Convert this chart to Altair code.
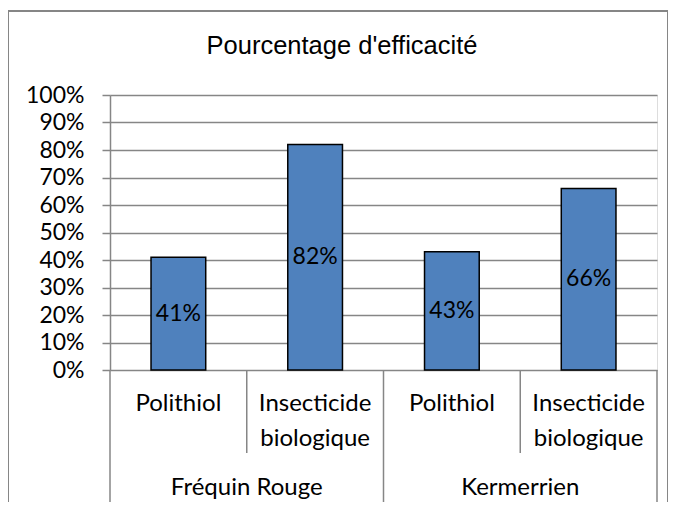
import altair as alt
import pandas as pd

chart_title = "Pourcentage d'efficacité"
sites = ["Fréquin Rouge", "Fréquin Rouge", "Kermerrien", "Kermerrien"]
treatments = ["Polithiol", "Insecticide\nbiologique", "Polithiol", "Insecticide\nbiologique"]
values = [0.41, 0.82, 0.43, 0.66]
y_ticks = [0.0, 0.1, 0.2, 0.3, 0.4, 0.5, 0.6, 0.7, 0.8, 0.9, 1.0]

n = len(values)
bars_df = pd.DataFrame({"i": list(range(n)), "site": sites,
                        "treatment": treatments, "value": values})

sep_rows = []
for b in range(n + 1):
    major = b == 0 or b == n or sites[b] != sites[b - 1]
    sep_rows.append({"pos": b, "major": major})
sep_df = pd.DataFrame(sep_rows)

grp_rows = []
for s in dict.fromkeys(sites):
    idx = [k for k, v in enumerate(sites) if v == s]
    grp_rows.append({"site": s, "center": (min(idx) + max(idx) + 1) / 2})
grp_df = pd.DataFrame(grp_rows)

W, H = 547, 275
GRAY = "#868686"
LABEL_FONT = "Lato"

xs = alt.Scale(domain=[0, n], nice=False, zero=False)
ys = alt.Scale(domain=[0, 1], nice=False)
y_axis = alt.Axis(
    values=y_ticks, format=".0%", title=None, grid=True, labelOverlap=False,
    tickCount=11,
    gridColor=GRAY, gridWidth=1.5, domainColor=GRAY, domainWidth=1.5,
    tickColor=GRAY, tickWidth=1.5, tickSize=8, labelPadding=18,
    labelFont=LABEL_FONT, labelFontSize=23, labelColor="black")

base = alt.Chart(bars_df).transform_calculate(
    x0="datum.i + 0.3", x1="datum.i + 0.7", xc="datum.i + 0.5",
    mid="datum.value / 2", zero="0"
)

bars = base.mark_bar(color="#4F81BD", stroke="black", strokeWidth=1.5).encode(
    x=alt.X("x0:Q", scale=xs, axis=None),
    x2="x1:Q",
    y=alt.Y("value:Q", scale=ys, axis=y_axis),
    y2="zero:Q",
)

bar_labels = base.mark_text(font=LABEL_FONT, fontSize=23, color="black",
                            baseline="middle", align="center").encode(
    x=alt.X("xc:Q", scale=xs, axis=None),
    y=alt.Y("mid:Q", scale=ys, axis=y_axis),
    text=alt.Text("value:Q", format=".0%"),
)

treat_labels = base.mark_text(font=LABEL_FONT, fontSize=24, color="black",
                              baseline="top", align="center", lineBreak="\n",
                              lineHeight=35).encode(
    x=alt.X("xc:Q", scale=xs, axis=None),
    y=alt.value(297),
    text="treatment:N",
)

site_labels = alt.Chart(grp_df).mark_text(font=LABEL_FONT, fontSize=24, color="black",
                                          baseline="middle", align="center").encode(
    x=alt.X("center:Q", scale=xs, axis=None),
    y=alt.value(393),
    text="site:N",
)

title_mark = alt.Chart(pd.DataFrame({"t": [chart_title]})).mark_text(
    font="Liberation Sans", fontSize=25.5, color="black",
    baseline="alphabetic", align="center").encode(
    x=alt.value(232), y=alt.value(-41), text="t:N")

minor_seps = alt.Chart(sep_df).transform_filter("!datum.major").mark_rule(
    color=GRAY, strokeWidth=1.5).encode(
    x=alt.X("pos:Q", scale=xs, axis=None), y=alt.value(H), y2=alt.value(358))

major_seps = alt.Chart(sep_df).transform_filter("datum.major").mark_rule(
    color=GRAY, strokeWidth=1.5).encode(
    x=alt.X("pos:Q", scale=xs, axis=None), y=alt.value(H), y2=alt.value(407))

frame_df = pd.DataFrame({"k": [0]})
frame_left = alt.Chart(frame_df).mark_rule(color=GRAY, strokeWidth=2).encode(
    x=alt.value(-102), y=alt.value(-84), y2=alt.value(407))
frame_right = alt.Chart(frame_df).mark_rule(color=GRAY, strokeWidth=2).encode(
    x=alt.value(558), y=alt.value(-84), y2=alt.value(407))
frame_top = alt.Chart(frame_df).mark_rule(color=GRAY, strokeWidth=2).encode(
    x=alt.value(-102), x2=alt.value(558), y=alt.value(-84))

chart = alt.layer(
    bars, bar_labels, minor_seps, major_seps, treat_labels, site_labels,
    title_mark, frame_left, frame_right, frame_top
).properties(
    width=W, height=H,
    autosize=alt.AutoSizeParams(type="none"),
    padding={"left": 102, "top": 87, "right": 11, "bottom": 132},
).configure_view(stroke=None).configure(background="white")

chart.save("out.html", embed_options={"renderer": "svg", "actions": False})
